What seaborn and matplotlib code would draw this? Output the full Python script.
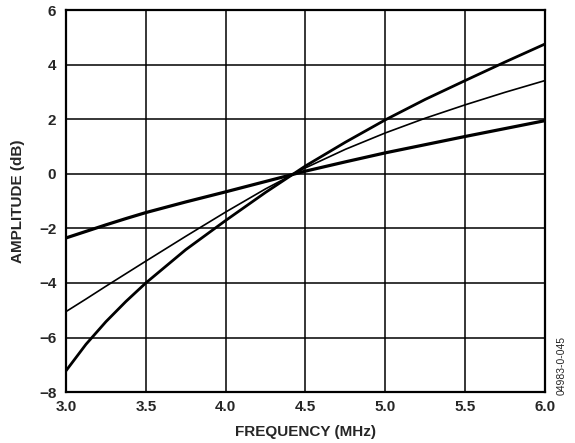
import pandas as pd
import matplotlib
matplotlib.use("Agg")
import matplotlib.pyplot as plt
import seaborn as sns

# Values
freq = [3.0, 3.125, 3.25, 3.375, 3.5, 3.75, 4.0, 4.25, 4.5, 4.75, 5.0, 5.25, 5.5, 5.75, 6.0]
steep = [-7.22, -6.25, -5.42, -4.68, -4.0, -2.78, -1.71, -0.68, 0.29, 1.16, 1.98, 2.73, 3.42, 4.1, 4.76]
middle = [-5.05, -4.59, -4.12, -3.66, -3.2, -2.29, -1.4, -0.55, 0.22, 0.9, 1.5, 2.04, 2.53, 2.99, 3.42]
shallow = [-2.35, -2.11, -1.87, -1.64, -1.42, -1.03, -0.66, -0.28, 0.1, 0.44, 0.77, 1.07, 1.37, 1.66, 1.95]

x_ticks = [3.0, 3.5, 4.0, 4.5, 5.0, 5.5, 6.0]
y_ticks = [-8, -6, -4, -2, 0, 2, 4, 6]

sns.set_style("white")
plt.rcParams["font.family"] = ["Liberation Sans", "DejaVu Sans"]

df = pd.DataFrame({"freq": freq, "steep": steep, "middle": middle, "shallow": shallow})

fig = plt.figure(figsize=(5.75, 4.43), dpi=100)
ax = fig.add_axes([0.1148, 0.115, 0.833, 0.862])

sns.lineplot(data=df, x="freq", y="steep", ax=ax, color="black", linewidth=2.0)
sns.lineplot(data=df, x="freq", y="middle", ax=ax, color="black", linewidth=1.2)
sns.lineplot(data=df, x="freq", y="shallow", ax=ax, color="black", linewidth=2.3)

ax.set_xlim(3.0, 6.0)
ax.set_ylim(-8, 6)
ax.set_xticks(x_ticks)
ax.set_yticks(y_ticks)
ax.set_xticklabels([f"{v:.1f}" for v in x_ticks], fontweight="bold", fontsize=11)
ax.set_yticklabels([str(v).replace("-", "\u2212") for v in y_ticks], fontweight="bold", fontsize=11)
ax.tick_params(axis="x", length=0, pad=6)
ax.tick_params(axis="y", length=0, pad=7)

ax.grid(True, color="black", linewidth=1.1)
for s in ax.spines.values():
    s.set_color("black")
    s.set_linewidth(1.6)

ax.set_xlabel("FREQUENCY (MHz)", fontweight="bold", fontsize=11, labelpad=8)
ax.set_ylabel("AMPLITUDE (dB)", fontweight="bold", fontsize=11, labelpad=10)

fig.text(0.977, 0.176, "04983-0-045", rotation=90, fontsize=7.5, ha="center", va="center")

fig.savefig("out.png", dpi=100)
